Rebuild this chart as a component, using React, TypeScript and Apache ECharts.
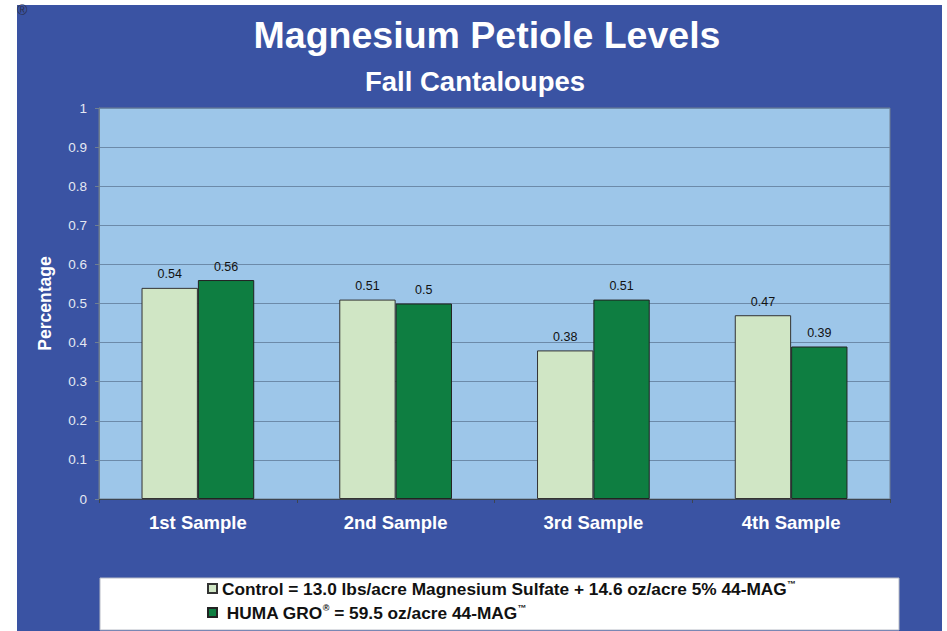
import React, { useEffect, useRef } from "react";
import * as echarts from "echarts";

const categories = ["1st Sample", "2nd Sample", "3rd Sample", "4th Sample"];
const controlValues = [0.54, 0.51, 0.38, 0.47];
const humaValues = [0.56, 0.5, 0.51, 0.39];
const controlName = "Control = 13.0 lbs/acre Magnesium Sulfate + 14.6 oz/acre 5% 44-MAG™";
const humaName = " HUMA GRO® = 59.5 oz/acre 44-MAG™";
const titleText = "Magnesium Petiole Levels";
const subtitleText = "Fall Cantaloupes";
const yAxisName = "Percentage";

const FONT = "'Liberation Sans', Arial, Helvetica, sans-serif";

function legendFormatter(name: string): string {
  let out = "";
  let buf = "";
  for (const ch of name) {
    if (ch === "™" || ch === "®") {
      if (buf) out += "{t|" + buf + "}";
      buf = "";
      out += "{sup|" + ch + "}";
    } else {
      buf += ch;
    }
  }
  if (buf) out += "{t|" + buf + "}";
  return out;
}

export default function App() {
  const ref = useRef<HTMLDivElement>(null);
  useEffect(() => {
    if (!ref.current) return;
    const chart = echarts.init(ref.current, undefined, { renderer: "svg" });
    const labelStyle = {
      show: true,
      position: "top" as const,
      distance: 7,
      color: "#111",
      fontSize: 12.5,
      fontFamily: FONT,
    };
    const legendText = {
      color: "#111",
      fontSize: 17.3,
      fontWeight: "bold",
      fontFamily: FONT,
      rich: {
        t: { fontSize: 17.3, fontWeight: "bold", fontFamily: FONT, color: "#111", lineHeight: 18 },
        sup: { fontSize: 9, fontFamily: FONT, color: "#111", padding: [0, 0, 10, 0] },
      },
    };
    const legendBase = {
      orient: "horizontal",
      left: 207,
      padding: 0,
      itemWidth: 9,
      itemHeight: 9,
      icon: "rect",
      z: 5,
      formatter: legendFormatter,
      textStyle: legendText,
    };
    chart.setOption({
      animation: false,
      backgroundColor: "#ffffff",
      graphic: [
        {
          type: "rect",
          z: -10,
          shape: { x: 17, y: 5, width: 925, height: 630 },
          style: { fill: "#3a53a3" },
        },
        {
          type: "text",
          z: 10,
          x: 17,
          y: 3,
          style: { text: "®", fill: "#2a2f4a", fontSize: 14, fontFamily: FONT },
        },
        {
          type: "rect",
          z: 1,
          shape: { x: 100, y: 578, width: 799, height: 52 },
          style: { fill: "#ffffff", stroke: "#b8bcc6", lineWidth: 1 },
        },
      ],
      title: [
        {
          text: titleText,
          left: 482,
          top: 11,
          textAlign: "center",
          textStyle: { color: "#ffffff", fontSize: 37.5, fontWeight: "bold", fontFamily: FONT },
        },
        {
          text: subtitleText,
          left: 470,
          top: 62,
          textAlign: "center",
          textStyle: { color: "#ffffff", fontSize: 27.5, fontWeight: "bold", fontFamily: FONT },
        },
      ],
      legend: [
        { ...legendBase, top: 579, data: [controlName] },
        { ...legendBase, top: 603, data: [humaName] },
      ],
      grid: {
        left: 99,
        top: 108,
        right: 57,
        bottom: 132,
        show: true,
        backgroundColor: "#9dc6e9",
        borderColor: "#6f7f90",
        borderWidth: 1,
        containLabel: false,
      },
      xAxis: {
        type: "category",
        data: categories,
        axisLine: { show: true, lineStyle: { color: "#3c4550", width: 1 } },
        axisTick: { show: true, length: 4, lineStyle: { color: "#3c4550" } },
        axisLabel: {
          color: "#ffffff",
          fontSize: 18.5,
          fontWeight: "bold",
          fontFamily: FONT,
          margin: 14,
        },
      },
      yAxis: {
        type: "value",
        min: 0,
        max: 1,
        interval: 0.1,
        name: yAxisName,
        nameLocation: "middle",
        nameGap: 45,
        nameTextStyle: { color: "#ffffff", fontSize: 17.5, fontWeight: "bold", fontFamily: FONT },
        axisLine: { show: true, lineStyle: { color: "#6f7f90" } },
        axisTick: { show: true, length: 4, lineStyle: { color: "#6f7f90" } },
        axisLabel: {
          color: "#e4e8f2",
          fontSize: 13.5,
          fontFamily: FONT,
          margin: 12,
          formatter: (v: number) => String(Math.round(v * 10) / 10),
        },
        splitLine: { show: true, lineStyle: { color: "#6c8aa9", width: 1 } },
      },
      series: [
        {
          name: controlName,
          type: "bar",
          data: controlValues,
          barGap: "0%",
          barCategoryGap: "43%",
          itemStyle: { color: "#d0e6c5", borderColor: "#333", borderWidth: 1 },
          label: labelStyle,
        },
        {
          name: humaName,
          type: "bar",
          data: humaValues,
          barGap: "0%",
          barCategoryGap: "43%",
          itemStyle: { color: "#0e7e41", borderColor: "#222", borderWidth: 1 },
          label: labelStyle,
        },
      ],
    });
    return () => chart.dispose();
  }, []);
  return (
    <div
      ref={ref}
      style={{ position: "fixed", left: 0, top: 0, width: 947, height: 631 }}
    />
  );
}
